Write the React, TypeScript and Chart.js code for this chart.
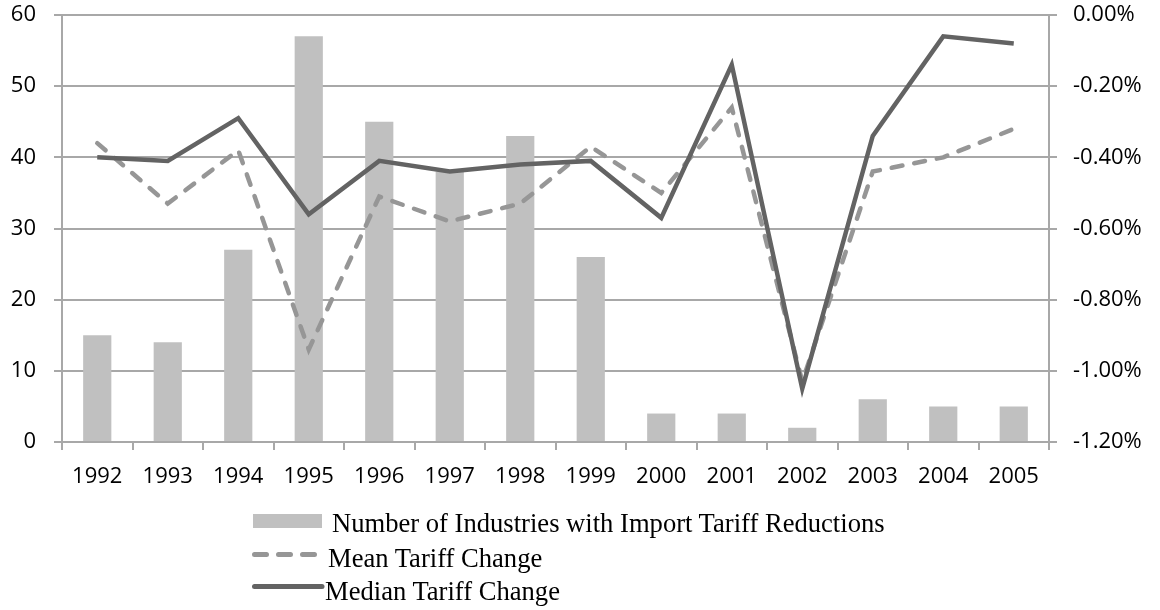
import React, { useEffect, useRef } from "react";
import { Chart, registerables } from "chart.js";

Chart.register(...registerables);

const years = ["1992", "1993", "1994", "1995", "1996", "1997", "1998", "1999", "2000", "2001", "2002", "2003", "2004", "2005"];
const industries = [15, 14, 27, 57, 45, 38, 43, 26, 4, 4, 2, 6, 5, 5];
const meanChange = [-0.36, -0.53, -0.38, -0.94, -0.51, -0.58, -0.53, -0.37, -0.50, -0.26, -1.03, -0.44, -0.40, -0.32];
const medianChange = [-0.40, -0.41, -0.29, -0.56, -0.41, -0.44, -0.42, -0.41, -0.57, -0.14, -1.05, -0.34, -0.06, -0.08];

const legendLabels = [
  "Number of Industries with Import Tariff Reductions",
  "Mean Tariff Change",
  "Median Tariff Change",
];

const BAR = "#c0c0c0";
const MEAN = "#969696";
const MEDIAN = "#636363";
const GRID = "#a8a8a8";
const TICK_FONT = { family: "'Open Sans', sans-serif", size: 22 };

export default function App() {
  const ref = useRef<HTMLCanvasElement>(null);

  useEffect(() => {
    const chart = new Chart(ref.current!, {
      type: "bar",
      data: {
        labels: years,
        datasets: [
          {
            type: "line",
            label: legendLabels[2],
            data: medianChange,
            yAxisID: "y1",
            borderColor: MEDIAN,
            borderWidth: 4.5,
            pointRadius: 0,
            tension: 0,
            borderJoinStyle: "miter",
            order: 1,
          },
          {
            type: "line",
            label: legendLabels[1],
            data: meanChange,
            yAxisID: "y1",
            borderColor: MEAN,
            borderWidth: 4.5,
            borderDash: [11, 12],
            borderCapStyle: "round",
            pointRadius: 0,
            tension: 0,
            order: 2,
          },
          {
            type: "bar",
            label: legendLabels[0],
            data: industries,
            yAxisID: "y",
            backgroundColor: BAR,
            borderWidth: 0,
            barPercentage: 0.4,
            categoryPercentage: 1,
            order: 3,
          },
        ],
      },
      options: {
        animation: false,
        responsive: false,
        layout: { padding: { top: 15, left: 0, right: 0, bottom: 0 } },
        plugins: { legend: { display: false }, tooltip: { enabled: false } },
        scales: {
          x: {
            offset: true,
            grid: { offset: true, drawOnChartArea: false, drawTicks: true, tickLength: 8, color: GRID, lineWidth: 2 },
            border: { color: GRID, width: 2 },
            ticks: { color: "#000", font: TICK_FONT, padding: 14, maxRotation: 0 },
            afterFit: (s: any) => { s.height = 168; s.paddingLeft = 0; s.paddingRight = 0; },
          },
          y: {
            position: "left",
            min: 0,
            max: 60,
            ticks: { stepSize: 10, color: "#000", font: TICK_FONT, padding: 18 },
            grid: { color: GRID, lineWidth: 2, tickLength: 8 },
            border: { color: GRID, width: 2 },
            afterFit: (s: any) => { s.width = 62; s.paddingTop = 0; s.paddingBottom = 0; },
          },
          y1: {
            position: "right",
            min: -1.2,
            max: 0,
            ticks: {
              stepSize: 0.2,
              color: "#000",
              font: TICK_FONT,
              padding: 16,
              callback: (v: any) => Number(v).toFixed(2) + "%",
            },
            grid: { drawOnChartArea: false, color: GRID, lineWidth: 2, tickLength: 8 },
            border: { color: GRID, width: 2 },
            afterFit: (s: any) => { s.width = 111; s.paddingTop = 0; s.paddingBottom = 0; },
          },
        },
      },
    });
    return () => chart.destroy();
  }, []);

  const serif = "'Liberation Serif', 'Times New Roman', serif";
  const textStyle = (top: number, left: number): React.CSSProperties => ({
    position: "absolute",
    top,
    left,
    fontFamily: serif,
    fontSize: 26.6,
    lineHeight: "30px",
    color: "#000",
    whiteSpace: "nowrap",
  });

  return (
    <div style={{ position: "fixed", left: 0, top: 0, width: 1160, height: 610, background: "#fff" }}>
      <canvas ref={ref} width={1160} height={610} style={{ position: "absolute", left: 0, top: 0 }} />
      <div style={{ position: "absolute", left: 253, top: 514, width: 69, height: 14, background: BAR }} />
      <div style={textStyle(508, 332)}>{legendLabels[0]}</div>
      <svg style={{ position: "absolute", left: 245, top: 545 }} width={80} height={20}>
        <line x1={9.5} y1={9.5} x2={69.5} y2={9.5} stroke={MEAN} strokeWidth={5} strokeDasharray="12 12" strokeLinecap="round" />
      </svg>
      <div style={textStyle(543, 328)}>{legendLabels[1]}</div>
      <svg style={{ position: "absolute", left: 245, top: 577 }} width={85} height={20}>
        <line x1={9.5} y1={9.5} x2={77} y2={9.5} stroke={MEDIAN} strokeWidth={5} strokeLinecap="round" />
      </svg>
      <div style={textStyle(576, 325)}>{legendLabels[2]}</div>
    </div>
  );
}
